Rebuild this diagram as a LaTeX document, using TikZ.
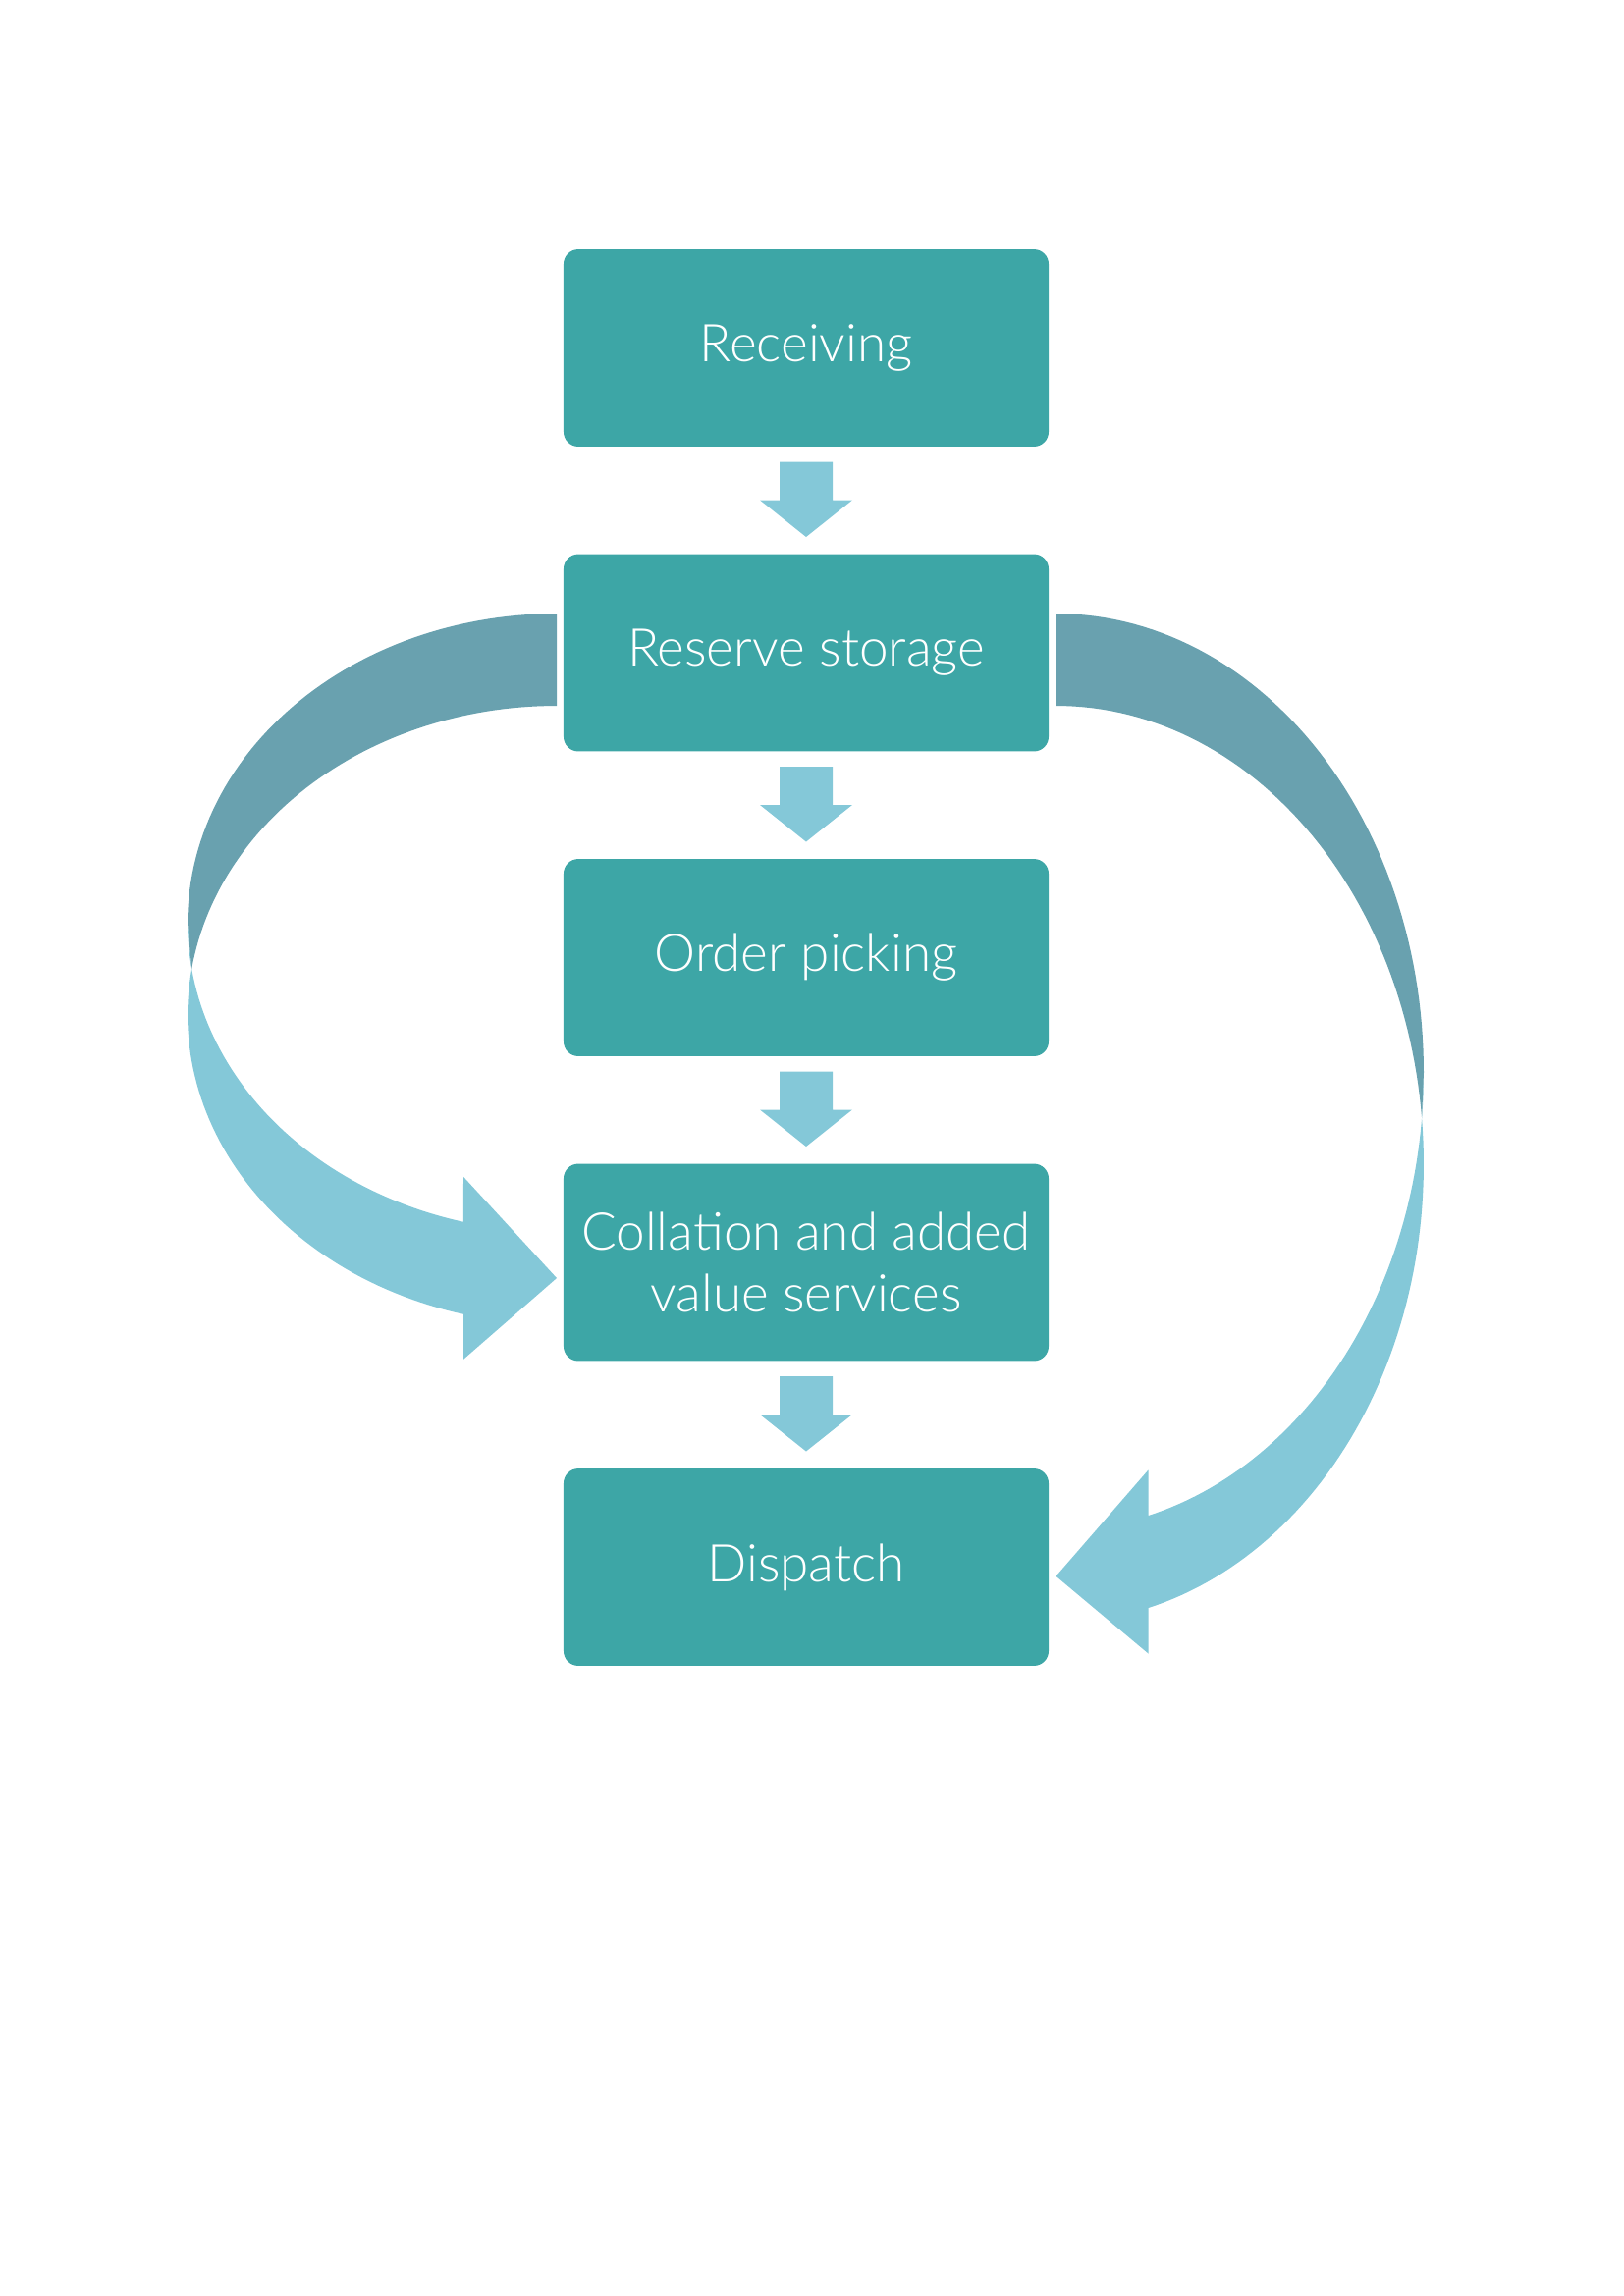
\documentclass[tikz,border=0pt]{standalone}
\usepackage{fontspec}
\setmainfont{Lato}[UprightFont={* Light}]
\usetikzlibrary{calc}
\definecolor{boxteal}{HTML}{3DA6A6}
\definecolor{arrowlight}{HTML}{84C8D8}
\definecolor{arrowdark}{HTML}{69A1AF}
\tikzset{
  stagebox/.style={rounded corners=5.4pt, fill=boxteal, draw=none, text=white,
    minimum width=177.8pt, minimum height=72.3pt, inner sep=0pt, align=center,
    font=\fontsize{19.1}{22.6}\selectfont},
  downarrow/.style={fill=arrowlight, draw=none},
  curvelight/.style={fill=arrowlight, draw=none},
  curvedark/.style={fill=arrowdark, draw=none}
}
\begin{document}
\begin{tikzpicture}[x=0.3599pt, y=-0.3599pt]
\useasboundingbox (0,0) rectangle (1654,2339);
% boxes
\node[stagebox] (rec) at (821,354.5) {Receiving};
\node[stagebox] (res) at (821,665) {Reserve storage};
\node[stagebox] (ord) at (821,975.5) {Order picking};
\node[stagebox] (col) at (821,1286) {Collation and added\\value services};
\node[stagebox] (dis) at (821,1596.5) {Dispatch};
% straight block arrows
\foreach \a/\b in {rec/res, res/ord, ord/col, col/dis}{
  \fill[downarrow] ($(\a.south)+(-27,15)$) -- ($(\a.south)+(27,15)$)
    -- ($(\a.south)+(27,54)$) -- ($(\a.south)+(47,54)$)
    -- ($(\b.north)+(0,-17)$)
    -- ($(\a.south)+(-47,54)$) -- ($(\a.south)+(-27,54)$) -- cycle;
}
% left curved arrow (reserve -> collation)
\fill[curvelight]
  plot[domain=180:104.64, samples=60] ({567+376*cos(\x)}, {940+315*sin(\x)})
  -- (472,1198.8) -- (567,1302) -- (472,1384.8) -- (472,1338.8)
  -- plot[domain=104.64:188.58, samples=60] ({567+376*cos(\x)}, {1034+315*sin(\x)})
  -- cycle;
\fill[curvedark]
  plot[domain=270:188.58, samples=60] ({567+376*cos(\x)}, {1034+315*sin(\x)})
  -- plot[domain=180:270, samples=60] ({567+376*cos(\x)}, {940+315*sin(\x)})
  -- cycle;
% right curved arrow (reserve -> dispatch)
\fill[curvelight]
  plot[domain=180:104.54, samples=60] ({1075.5-374.5*cos(\x)}, {1092+467*sin(\x)})
  -- (1169.5,1497.5) -- (1075.5,1605.7) -- (1169.5,1684.5) -- (1169.5,1638)
  -- plot[domain=104.54:185.78, samples=60] ({1075.5-374.5*cos(\x)}, {1186+467*sin(\x)})
  -- cycle;
\fill[curvedark]
  plot[domain=270:185.78, samples=60] ({1075.5-374.5*cos(\x)}, {1186+467*sin(\x)})
  -- plot[domain=180:270, samples=60] ({1075.5-374.5*cos(\x)}, {1092+467*sin(\x)})
  -- cycle;
\end{tikzpicture}
\end{document}
